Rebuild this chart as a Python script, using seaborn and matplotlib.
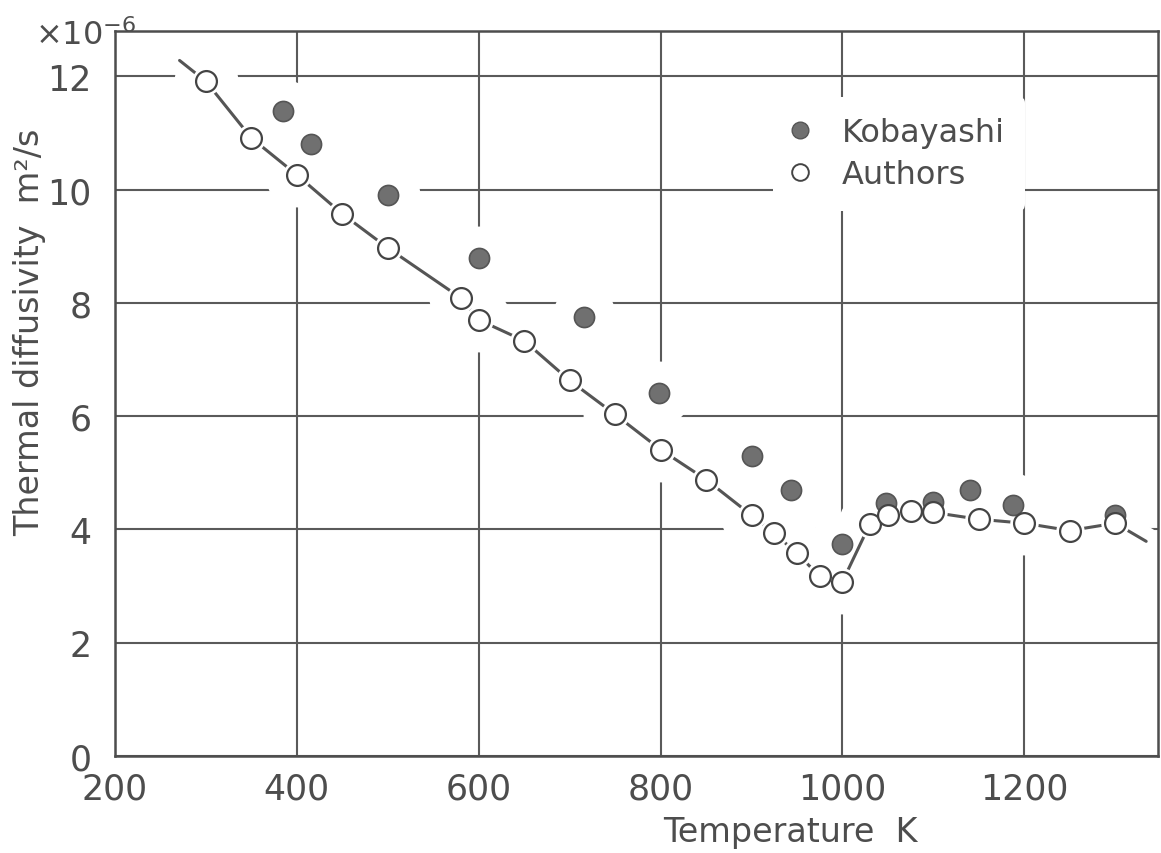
import numpy as np
import pandas as pd
import matplotlib
matplotlib.use("Agg")
import matplotlib.pyplot as plt
import seaborn as sns
from matplotlib.lines import Line2D

# Data (temperature in K, diffusivity in 1e-6 m2/s)
authors_T = [300, 350, 400, 450, 500, 580, 600, 650, 700, 750, 800, 850, 900,
             925, 950, 975, 1000, 1030, 1050, 1075, 1100, 1150, 1200, 1250, 1300]
authors_D = [11.91, 10.91, 10.26, 9.57, 8.97, 8.09, 7.70, 7.33, 6.63, 6.03, 5.41,
             4.88, 4.25, 3.93, 3.58, 3.17, 3.08, 4.09, 4.25, 4.32, 4.30, 4.18,
             4.11, 3.98, 4.11]

kobayashi_T = [385, 416, 500, 600, 716, 798, 900, 943, 1000, 1048, 1100, 1140,
               1188, 1300]
kobayashi_D = [11.38, 10.80, 9.90, 8.79, 7.75, 6.41, 5.29, 4.70, 3.75, 4.46,
               4.48, 4.69, 4.44, 4.25]

# the drawn curve runs a little past the first and last points
curve_start = (271, 12.28)
curve_end = (1334, 3.79)

x_ticks = [200, 400, 600, 800, 1000, 1200]
y_ticks = [0, 2, 4, 6, 8, 10, 12]

authors = pd.DataFrame({"T": authors_T, "D": authors_D})
kobayashi = pd.DataFrame({"T": kobayashi_T, "D": kobayashi_D})
curve = pd.DataFrame({
    "T": [curve_start[0]] + authors_T + [curve_end[0]],
    "D": [curve_start[1]] + authors_D + [curve_end[1]],
})

sns.set_style("white")
plt.rcParams["font.family"] = ["DejaVu Sans"]

ink = "#4d4d4d"
W, H = 1161, 854
fig = plt.figure(figsize=(W / 100, H / 100), dpi=100)
ax = fig.add_axes([115 / W, 1 - 757 / H, (1158 - 115) / W, (757 - 32) / H])

ax.set_xlim(200, 1347)
ax.set_ylim(0, 12.8)
ax.set_xticks(x_ticks)
ax.set_yticks(y_ticks)
ax.grid(True, color="#5a5a5a", linewidth=1.5, zorder=0.5)
ax.set_axisbelow(True)

# white gaps in the grid around the curve and the points, like the drafted original
sns.lineplot(data=curve, x="T", y="D", sort=False, estimator=None, ax=ax,
             color="white", linewidth=20, zorder=1.6)
sns.scatterplot(data=pd.concat([authors, kobayashi]), x="T", y="D", ax=ax,
                s=2116, color="white", linewidth=0, zorder=1.7)

# the curve
sns.lineplot(data=curve, x="T", y="D", sort=False, estimator=None, ax=ax,
             color="#555555", linewidth=2.2, zorder=2)
sns.scatterplot(data=authors, x="T", y="D", ax=ax, s=420, color="white",
                linewidth=0, zorder=2.1)

sns.scatterplot(data=kobayashi, x="T", y="D", ax=ax, s=210, color="#707070",
                edgecolor="#555555", linewidth=1.2, zorder=2.2)
sns.scatterplot(data=authors, x="T", y="D", ax=ax, s=225, color="white",
                edgecolor="#444444", linewidth=1.6, zorder=2.4)

ax.set_xlabel("")
ax.set_ylabel("")
ax.tick_params(length=0, labelsize=25, labelcolor=ink)
ax.tick_params(axis="y", pad=17)
ax.tick_params(axis="x", pad=11)
for side in ["left", "right", "top", "bottom"]:
    ax.spines[side].set_visible(True)
    ax.spines[side].set_color(ink)
    ax.spines[side].set_linewidth(1.8)

fig.text(790 / W, 1 - 833 / H, "Temperature  K", fontsize=24, color=ink,
         ha="center", va="center")
fig.text(30 / W, 1 - 332 / H, "Thermal diffusivity  m²/s", fontsize=24,
         color=ink, rotation=90, ha="center", va="center")
fig.text(35 / W, 1 - 45 / H, "×10$^{-6}$", fontsize=23, color=ink,
         ha="left", va="baseline")

handles = [
    Line2D([], [], linestyle="none", marker="o", markersize=12,
           markerfacecolor="#707070", markeredgecolor="#555555"),
    Line2D([], [], linestyle="none", marker="o", markersize=12,
           markerfacecolor="white", markeredgecolor="#444444",
           markeredgewidth=1.4),
]
leg = fig.legend(handles, ["Kobayashi", "Authors"], loc="upper left",
                 bbox_to_anchor=(773 / W, 1 - 98 / H), frameon=True,
                 facecolor="white", edgecolor="none", framealpha=1,
                 fontsize=23, handlelength=0.4, handletextpad=1.12,
                 borderpad=0.64, labelspacing=0.34, borderaxespad=0)
for t in leg.get_texts():
    t.set_color(ink)

fig.savefig("out.png", dpi=100)
